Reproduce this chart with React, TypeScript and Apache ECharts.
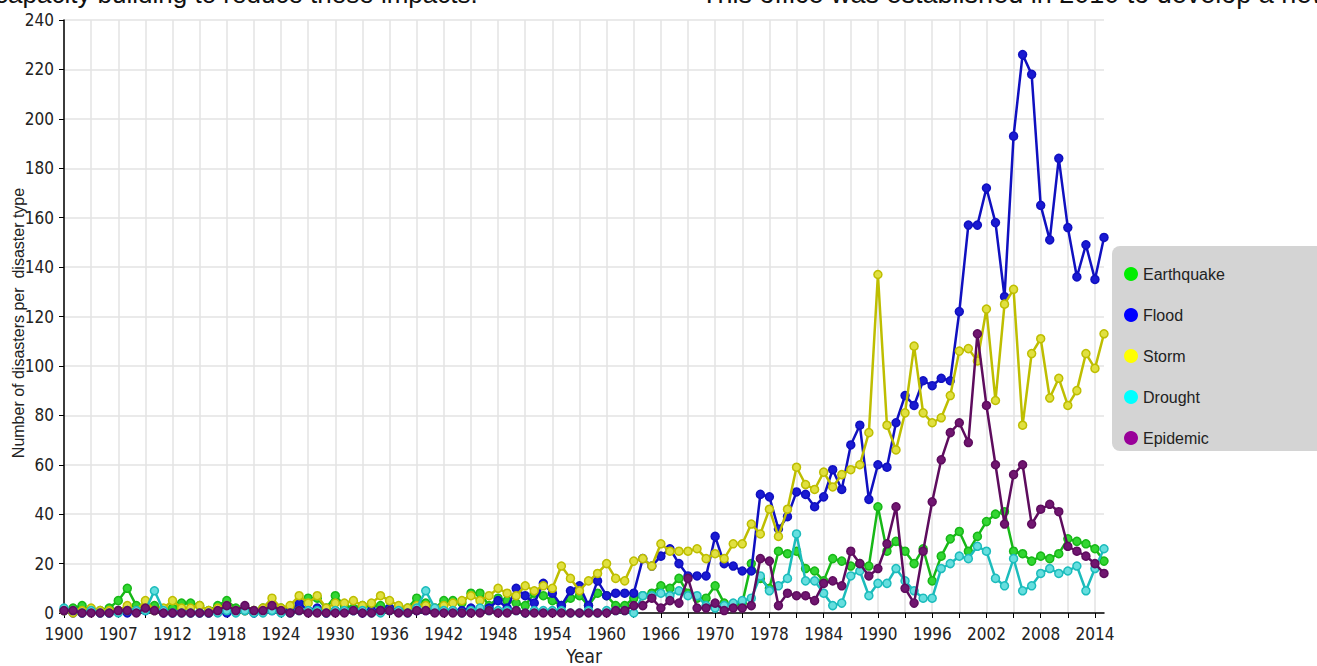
import React, { useEffect, useRef } from "react";
import * as echarts from "echarts";

const startYear = 1900;
const endYear = 2015;
const years: string[] = [];
for (let y = startYear; y <= endYear; y++) years.push(String(y));

const tickLabels = ["1900", "1907", "1912", "1918", "1924", "1930", "1936", "1942", "1948", "1954", "1960", "1966", "1970", "1978", "1984", "1990", "1996", "2002", "2008", "2014"];

const earthquake = [
  1, 2, 3, 1, 1, 2, 5, 10, 3, 2, 3, 1, 2, 4, 4, 3, 1, 3, 5, 2,
  1, 1, 2, 2, 2, 2, 3, 6, 6, 2, 7, 3, 2, 3, 3, 3, 2, 1, 2, 6,
  4, 2, 5, 5, 4, 8, 8, 3, 6, 5, 4, 3, 8, 7, 5, 3, 6, 7, 3, 8,
  7, 3, 3, 6, 7, 8, 11, 10, 14, 8, 6, 6, 11, 4, 3, 4, 20, 14, 10, 25,
  24, 25, 18, 17, 13, 22, 21, 19, 20, 19, 43, 25, 29, 25, 20, 26, 13, 23, 30, 33,
  25, 31, 37, 40, 41, 25, 24, 21, 23, 22, 24, 30, 29, 28, 26, 21,
];
const flood = [
  1, 0, 0, 1, 0, 0, 1, 0, 1, 1, 1, 0, 0, 1, 0, 0, 0, 1, 0, 1,
  1, 0, 1, 1, 1, 1, 4, 1, 2, 0, 1, 1, 1, 0, 1, 1, 2, 1, 1, 1,
  1, 1, 1, 1, 1, 2, 1, 2, 5, 2, 10, 7, 4, 12, 8, 3, 9, 11, 3, 13,
  7, 8, 8, 8, 22, 19, 23, 26, 20, 15, 15, 15, 31, 20, 19, 17, 17, 48, 47, 34,
  39, 49, 48, 43, 47, 58, 50, 68, 76, 46, 60, 59, 77, 88, 84, 94, 92, 95, 94, 122,
  157, 157, 172, 158, 128, 193, 226, 218, 165, 151, 184, 156, 136, 149, 135, 152,
];
const storm = [
  1, 0, 1, 2, 1, 1, 1, 3, 1, 5, 1, 2, 5, 2, 2, 3, 1, 2, 3, 1,
  1, 1, 2, 6, 2, 3, 7, 4, 7, 2, 4, 4, 5, 3, 4, 7, 5, 3, 2, 3,
  3, 2, 3, 4, 5, 7, 5, 7, 10, 8, 7, 11, 9, 11, 10, 19, 14, 9, 13, 16,
  20, 14, 13, 21, 22, 19, 28, 25, 25, 25, 26, 22, 24, 22, 28, 28, 36, 32, 42, 31,
  42, 59, 52, 50, 57, 51, 56, 58, 60, 73, 137, 76, 66, 81, 108, 81, 77, 79, 88, 106,
  107, 102, 123, 86, 125, 131, 76, 105, 111, 87, 95, 84, 90, 105, 99, 113,
];
const drought = [
  2, 1, 0, 1, 0, 0, 0, 1, 1, 1, 9, 1, 0, 0, 0, 0, 0, 0, 1, 0,
  1, 0, 0, 1, 0, 0, 1, 1, 1, 0, 1, 1, 1, 1, 0, 0, 1, 1, 0, 2,
  9, 2, 1, 1, 0, 1, 2, 1, 1, 1, 1, 0, 1, 1, 1, 1, 0, 0, 1, 0,
  1, 1, 1, 0, 7, 7, 8, 7, 9, 7, 7, 3, 2, 3, 4, 5, 6, 15, 9, 11,
  14, 32, 13, 13, 8, 3, 4, 15, 17, 7, 12, 12, 18, 13, 9, 6, 6, 18, 20, 23,
  22, 27, 25, 14, 11, 22, 9, 11, 16, 18, 16, 17, 19, 9, 18, 26,
];
const epidemic = [
  1, 1, 0, 0, 0, 0, 1, 1, 0, 2, 1, 0, 0, 0, 0, 0, 0, 1, 3, 1,
  3, 1, 1, 3, 1, 0, 1, 0, 0, 0, 0, 0, 1, 0, 0, 1, 1, 0, 0, 1,
  1, 0, 0, 0, 0, 0, 0, 1, 0, 0, 1, 0, 0, 0, 0, 0, 0, 0, 0, 0,
  0, 1, 1, 3, 3, 6, 2, 5, 4, 14, 2, 2, 4, 1, 2, 2, 3, 22, 21, 3,
  8, 7, 7, 5, 12, 13, 11, 25, 20, 15, 18, 28, 43, 10, 4, 25, 45, 62, 73, 77,
  69, 113, 84, 60, 36, 56, 60, 36, 42, 44, 41, 27, 25, 23, 20, 16,
];

const seriesNames = ["Earthquake", "Flood", "Storm", "Drought", "Epidemic"];
const seriesData = [earthquake, flood, storm, drought, epidemic];
const lineColors = ["#17b817", "#1010c0", "#bebe00", "#1cbcbc", "#5e0c5e"];
const markerFills = ["#33d633", "#1a1ad2", "#e0e040", "#66dede", "#701670"];
const legendColors = ["#00ee00", "#0000ff", "#ffff00", "#00ffff", "#990099"];

const narrow = "'Liberation Sans Narrow', 'Arial Narrow', 'DejaVu Sans Condensed', sans-serif";
const sans = "'Liberation Sans', Arial, sans-serif";

export default function App() {
  const ref = useRef<HTMLDivElement>(null);
  useEffect(() => {
    document.body.style.margin = "0";
    const chart = echarts.init(ref.current!, undefined, { renderer: "svg" });
    chart.setOption({
      animation: false,
      backgroundColor: "#ffffff",
      grid: { left: 64, right: 213, top: 20, bottom: 53, outerBoundsMode: "none", containLabel: false },
      legend: {
        orient: "vertical",
        left: 1124,
        top: 266,
        padding: 0,
        itemWidth: 14,
        itemHeight: 14,
        itemGap: 25,
        icon: "circle",
        textStyle: { fontSize: 16, color: "#222", fontFamily: sans, lineHeight: 14 },
        data: seriesNames.map((n, i) => ({ name: n, itemStyle: { color: legendColors[i], borderWidth: 0 } })),
      },
      graphic: [
        { type: "rect", z: 0, shape: { x: 1112, y: 246, width: 216, height: 205, r: 8 }, style: { fill: "#d4d4d4" } },
        { type: "text", left: -5, top: -19, style: { text: "capacity building to reduce these impacts.", fontSize: 26, fill: "#111", fontFamily: sans } },
        { type: "text", left: 701, top: -20, style: { text: "This office was established in 2010 to develop a new", fontSize: 27, fill: "#111", fontFamily: sans } },
      ],
      xAxis: {
        type: "category",
        data: years,
        boundaryGap: false,
        name: "Year",
        nameLocation: "middle",
        nameGap: 33,
        nameMoveOverlap: false,
        nameTextStyle: { fontSize: 19, color: "#222", fontFamily: narrow },
        axisLine: { lineStyle: { color: "#000", width: 1.5 } },
        axisTick: { show: true, interval: (i: number) => i % 3 === 0, length: 5, lineStyle: { color: "#000" } },
        axisLabel: {
          interval: (i: number) => i % 6 === 0,
          formatter: (_v: string, i: number) => tickLabels[i / 6] ?? "",
          fontSize: 17,
          color: "#222",
          margin: 12,
          fontFamily: narrow,
        },
        splitLine: { show: true, interval: (i: number) => i % 3 === 0, lineStyle: { color: "#e3e3e3", width: 1.5 } },
      },
      yAxis: {
        type: "value",
        min: 0,
        max: 240,
        interval: 20,
        name: "Number of disasters per  disaster type",
        nameLocation: "middle",
        nameGap: 38,
        nameMoveOverlap: false,
        nameTextStyle: { fontSize: 16, color: "#222", fontFamily: sans, padding: [0, 13, 0, 0] },
        axisLine: { show: true, lineStyle: { color: "#000", width: 1.5 } },
        axisTick: { show: true, length: 5, lineStyle: { color: "#000" } },
        axisLabel: { fontSize: 17, color: "#222", margin: 10, fontFamily: narrow },
        splitLine: { show: true, lineStyle: { color: "#e3e3e3", width: 1.5 } },
      },
      series: seriesNames.map((n, i) => ({
        name: n,
        type: "line",
        data: seriesData[i],
        symbol: "circle",
        symbolSize: 8,
        showAllSymbol: true,
        lineStyle: { color: lineColors[i], width: 2.5 },
        itemStyle: { color: markerFills[i], borderColor: lineColors[i], borderWidth: 1.5 },
        emphasis: { disabled: true },
        z: 3 + i,
      })),
    });
    return () => chart.dispose();
  }, []);
  return <div ref={ref} style={{ position: "absolute", left: 0, top: 0, width: 1317, height: 666 }} />;
}
